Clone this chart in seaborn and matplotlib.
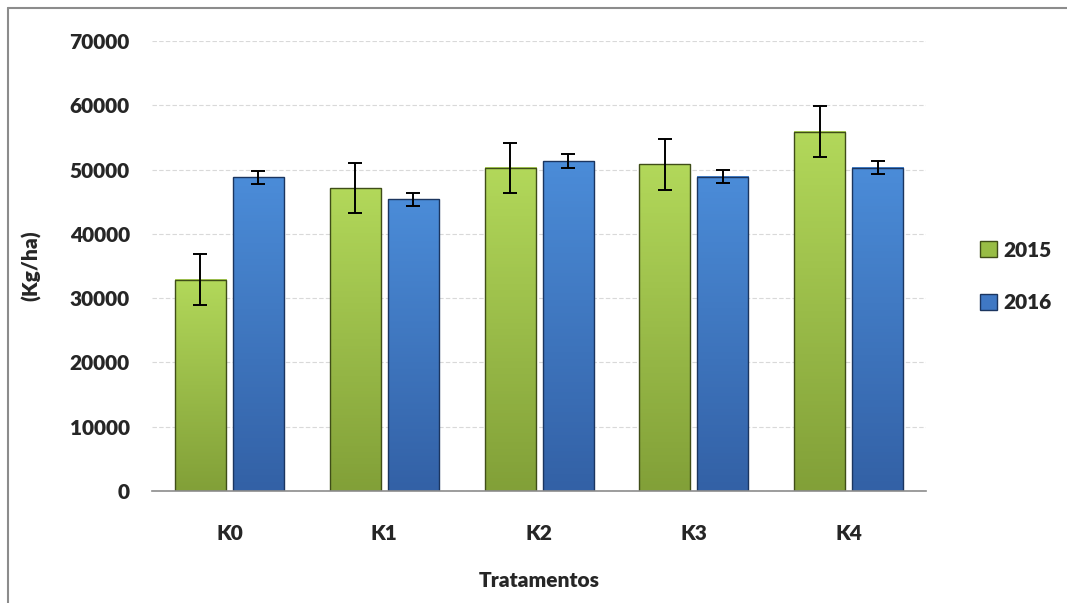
import numpy as np
import pandas as pd
import matplotlib
matplotlib.use("Agg")
import matplotlib.pyplot as plt
from matplotlib.colors import LinearSegmentedColormap
from matplotlib.lines import Line2D
from matplotlib.patches import Patch
import seaborn as sns

# values
treatments = ["K0", "K1", "K2", "K3", "K4"]
years = ["2015", "2016"]
yield_2015 = [32900, 47100, 50300, 50800, 55900]
yield_2016 = [48800, 45400, 51300, 48900, 50300]
err_2015 = [3900, 3900, 3900, 3900, 3950]
err_2016 = [1050, 1000, 1050, 1050, 1000]

df = pd.DataFrame({
    "Tratamento": treatments * 2,
    "Ano": [years[0]] * 5 + [years[1]] * 5,
    "Kg": yield_2015 + yield_2016,
})

sns.set_style("white")
plt.rcParams["font.family"] = ["Lato", "DejaVu Sans"]
W = "heavy"

green = "#98bd45"
blue = "#3f78c4"
shades = {
    "2015": ("#b2d85a", "#82a038", "#3f4d18"),
    "2016": ("#4b8cd8", "#3361a6", "#1b355f"),
}

fig = plt.figure(figsize=(10.67, 6.03), dpi=100)
ax = fig.add_axes([0.1425, 0.1857, 0.7255, 0.7463])

sns.barplot(data=df, x="Tratamento", y="Kg", hue="Ano", order=treatments,
            hue_order=years, palette=[green, blue], width=0.75, gap=0.12,
            errorbar=None, ax=ax, legend=False, zorder=2)

# gradient fill inside the seaborn bars, edge kept on top
bars = [p for p in ax.patches if p.get_height() > 0]
for i, p in enumerate(bars):
    yr = years[i // len(treatments)]
    top, bot, edge = shades[yr]
    cmap = LinearSegmentedColormap.from_list(yr, [bot, top])
    x0, w, h = p.get_x(), p.get_width(), p.get_height()
    grad = np.linspace(1, 0, 100).reshape(-1, 1)
    ax.imshow(grad, extent=[x0, x0 + w, 0, h], aspect="auto", cmap=cmap,
              zorder=2.1, clip_path=p, clip_on=True)
    p.set_facecolor("none")
    p.set_edgecolor(edge)
    p.set_linewidth(1.0)
    p.set_zorder(2.2)

errs = err_2015 + err_2016
for i, p in enumerate(bars):
    ax.errorbar(p.get_x() + p.get_width() / 2, p.get_height(), yerr=errs[i],
                fmt="none", ecolor="black", elinewidth=1.4, capsize=5,
                capthick=1.4, zorder=4)

ax.set_xlim(-0.5, 4.5)
ax.set_ylim(0, 70000)
ax.set_yticks(np.arange(0, 70001, 10000))
ax.yaxis.grid(True, color="#d9d9d9", linestyle=(0, (4, 2)), linewidth=0.8)
ax.set_axisbelow(True)
for s in ["left", "right", "top"]:
    ax.spines[s].set_visible(False)
ax.spines["bottom"].set_color("#8c8c8c")
ax.spines["bottom"].set_linewidth(1.2)
ax.tick_params(axis="both", length=0, labelsize=15)
ax.tick_params(axis="y", pad=16)
ax.tick_params(axis="x", pad=24)
for t in ax.get_xticklabels() + ax.get_yticklabels():
    t.set_fontweight(W)
ax.set_xlabel("Tratamentos", fontsize=15, fontweight=W, labelpad=20)
ax.set_ylabel("(Kg/ha)", fontsize=15, fontweight=W, labelpad=20)

handles = [Patch(facecolor=green, edgecolor="#3f4d18", label="2015"),
           Patch(facecolor=blue, edgecolor="#1b355f", label="2016")]
fig.legend(handles=handles, loc="center left", bbox_to_anchor=(0.901, 0.542),
           frameon=False, prop={"size": 15, "weight": W}, handlelength=0.8,
           handleheight=0.8, handletextpad=0.3, labelspacing=1.6)

# outer chart frame (left and top edges visible)
fig.add_artist(Line2D([8 / 1067, 8 / 1067], [0, 1 - 8 / 603],
                      color="#8c8c8c", linewidth=1.5))
fig.add_artist(Line2D([8 / 1067, 1], [1 - 8 / 603, 1 - 8 / 603],
                      color="#8c8c8c", linewidth=1.5))

fig.savefig("out.png", dpi=100)
